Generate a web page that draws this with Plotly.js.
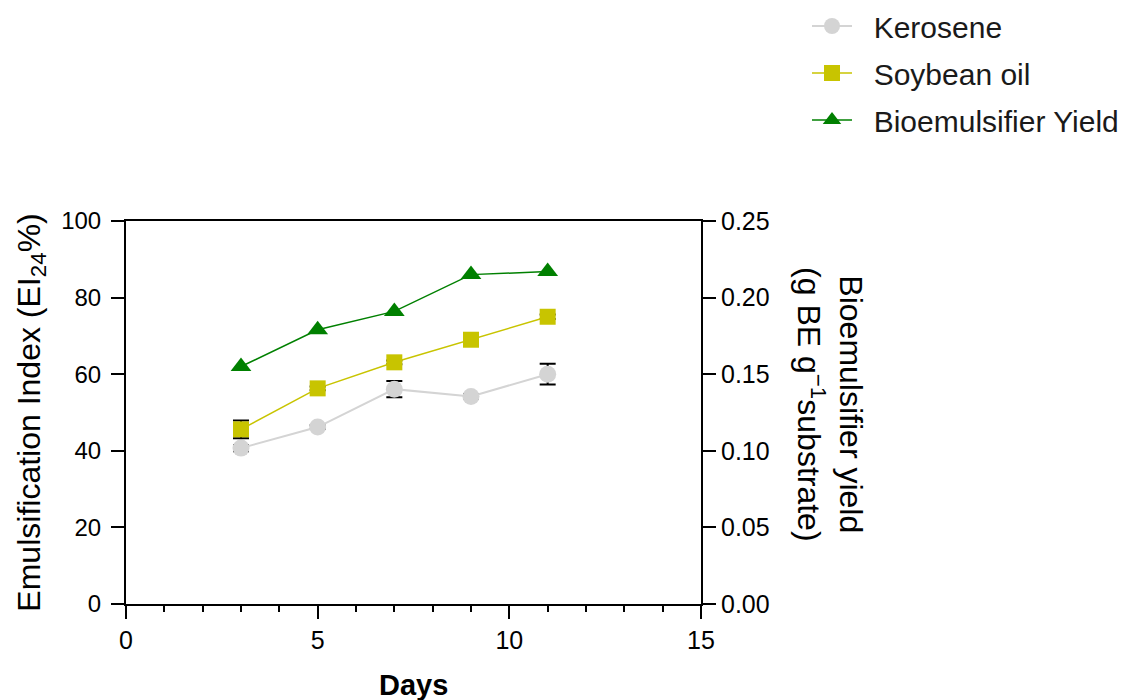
<!DOCTYPE html>
<html>
<head>
<meta charset="utf-8">
<script src="https://cdn.plot.ly/plotly-3.0.1.min.js"></script>
<style>html,body{margin:0;padding:0;background:#fff;}#chart{width:1137px;height:700px;}</style>
</head>
<body>
<div id="chart"></div>
<script>
// Data
const days = [3, 5, 7, 9, 11];
const kerosene = [40.7, 46.2, 56.1, 54.2, 60.0];
const keroseneErr = [0.8, 0.5, 2.1, 0.6, 2.7];
const soybean = [45.6, 56.3, 63.1, 69.0, 75.0];
const soybeanErr = [2.3, 0.5, 0.5, 0.5, 0.6];
const yieldBE = [0.155, 0.179, 0.191, 0.215, 0.217];
const seriesNames = ["Kerosene", "Soybean oil", "Bioemulsifier Yield"];
const xTitle = "Days";
const yTitle = "Emulsification Index (EI<sub>24</sub>%)";
const y2Title = "Bioemulsifier yield<br>(g BE g<sup>−1</sup>substrate)";

const FONT = "Liberation Sans, Arial, sans-serif";
const PAD = "\u00a0\u00a0";

const traces = [
  {
    x: days, y: kerosene, name: PAD + seriesNames[0], type: "scatter", mode: "lines+markers",
    line: {color: "#d4d4d4", width: 2},
    marker: {symbol: "circle", size: 17, color: "#d4d4d4"},
    error_y: {type: "data", array: keroseneErr, visible: true, color: "#000", thickness: 2, width: 8},
    legendgroup: "a"
  },
  {
    x: days, y: soybean, name: PAD + seriesNames[1], type: "scatter", mode: "lines+markers",
    line: {color: "#c8c400", width: 1.5},
    marker: {symbol: "square", size: 16, color: "#c8c400"},
    error_y: {type: "data", array: soybeanErr, visible: true, color: "#000", thickness: 2, width: 8},
    legendgroup: "b"
  },
  {
    x: days, y: yieldBE, name: PAD + seriesNames[2], type: "scatter", mode: "lines+markers",
    yaxis: "y2",
    line: {color: "#008000", width: 1.5},
    marker: {symbol: "triangle-up", size: 18, color: "#008000"},
    legendgroup: "c"
  }
];

const axisCommon = {
  showline: true, linecolor: "#000", linewidth: 2,
  ticks: "outside", tickcolor: "#000", tickwidth: 2, ticklen: 13,
  showgrid: false, zeroline: false,
  tickfont: {family: FONT, size: 25, color: "#000"}
};

const layout = {
  width: 1137, height: 700,
  margin: {l: 126, r: 436, t: 221, b: 96, autoexpand: false},
  paper_bgcolor: "#fff", plot_bgcolor: "#fff",
  font: {family: FONT, color: "#000"},
  showlegend: true,
  legend: {
    xref: "container", yref: "container",
    x: 807 / 1137, y: 1 - 0 / 700, xanchor: "left", yanchor: "top",
    font: {family: FONT, size: 30, color: "#1a1a1a"},
    traceorder: "grouped", tracegroupgap: 5, itemwidth: 40,
    bgcolor: "rgba(0,0,0,0)"
  },
  xaxis: Object.assign({}, axisCommon, {
    range: [0, 15], tick0: 0, dtick: 5, mirror: true,
    minor: {dtick: 1, ticks: "outside", ticklen: 6, tickwidth: 2, tickcolor: "#000", showgrid: false}
  }),
  yaxis: Object.assign({}, axisCommon, {
    range: [0, 100], tick0: 0, dtick: 20, ticklabelstandoff: 5,
    tickfont: {family: FONT, size: 24, color: "#000"}
  }),
  yaxis2: Object.assign({}, axisCommon, {
    overlaying: "y", side: "right", anchor: "x",
    range: [0, 0.25], tick0: 0, dtick: 0.05, tickformat: ".2f"
  }),
  annotations: [
    {
      xref: "paper", yref: "paper", x: 0.5, y: -0.211, xanchor: "center", yanchor: "middle",
      text: "<b>" + xTitle + "</b>", showarrow: false,
      font: {family: FONT, size: 29, color: "#000"}
    },
    {
      xref: "paper", yref: "paper", x: -0.165, y: 0.5, xanchor: "center", yanchor: "middle",
      text: yTitle, textangle: -90, showarrow: false,
      font: {family: FONT, size: 32, color: "#000"}
    },
    {
      xref: "paper", yref: "paper", x: 1.224, y: 0.52, xanchor: "center", yanchor: "middle",
      text: y2Title, textangle: 90, showarrow: false,
      font: {family: FONT, size: 32, color: "#000"}
    }
  ]
};

Plotly.newPlot("chart", traces, layout, {displayModeBar: false, staticPlot: true});
</script>
</body>
</html>
